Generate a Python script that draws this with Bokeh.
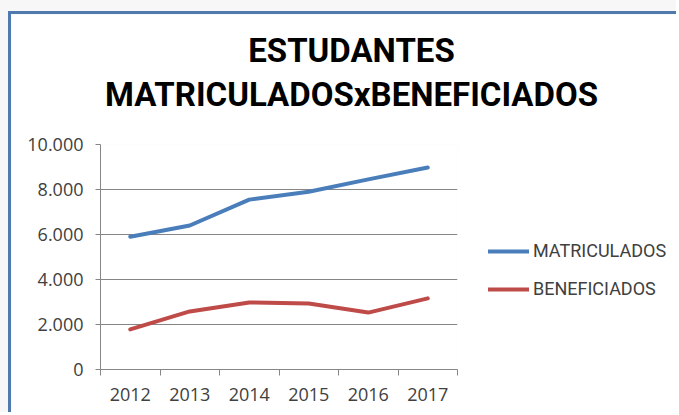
from bokeh.plotting import figure
from bokeh.models import FixedTicker, Legend, LegendItem, Label
from bokeh.layouts import column
from bokeh.embed import file_html
from bokeh.resources import INLINE

# ---- data ----
years = [2012, 2013, 2014, 2015, 2016, 2017]
matriculados = [5900, 6400, 7550, 7900, 8450, 8980]
beneficiados = [1780, 2580, 2980, 2930, 2530, 3160]
series_names = ["MATRICULADOS", "BENEFICIADOS"]
y_ticks = [0, 2000, 4000, 6000, 8000, 10000]
y_tick_labels = ["0", "2.000", "4.000", "6.000", "8.000", "10.000"]
x_tick_labels = ["2012", "2013", "2014", "2015", "2016", "2017"]
title_lines = ["ESTUDANTES", "MATRICULADOSxBENEFICIADOS"]

# ---- styles ----
BLUE = "#4a7ebb"
RED = "#be4b48"
GRID = "#868686"
TXT = "#404040"
FONT = "Open Sans"
LEG_FONT = "Roboto"
TITLE_FONT = "Roboto"

W, H = 668, 401

# ---------------- main chart (axes, grid, lines) ----------------
p = figure(width=W, height=H, output_backend="svg", toolbar_location=None,
           x_range=(years[0] - 0.5, years[-1] + 0.5), y_range=(y_ticks[0], y_ticks[-1]),
           min_border_left=89, min_border_right=222, min_border_top=130,
           min_border_bottom=46)
p.outline_line_color = None
p.background_fill_color = "white"
p.border_fill_color = "white"

bounds = [y - 0.5 for y in years] + [years[-1] + 0.5]
p.xaxis.ticker = FixedTicker(ticks=years, minor_ticks=bounds)
p.xaxis.major_label_overrides = dict(zip(years, x_tick_labels))
p.xaxis.major_tick_in = 0
p.xaxis.major_tick_out = 0
p.xaxis.minor_tick_in = 0
p.xaxis.minor_tick_out = 6
p.xaxis.minor_tick_line_color = GRID
p.xaxis.axis_line_color = GRID
p.xaxis.major_label_standoff = 12
p.xgrid.grid_line_color = None

p.yaxis.ticker = FixedTicker(ticks=y_ticks, minor_ticks=[])
p.yaxis.major_label_overrides = dict(zip(y_ticks, y_tick_labels))
p.yaxis.major_tick_in = 0
p.yaxis.major_tick_out = 5
p.yaxis.minor_tick_out = 0
p.yaxis.major_tick_line_color = GRID
p.yaxis.axis_line_color = GRID
p.yaxis.major_label_standoff = 12
p.ygrid.grid_line_color = GRID

for ax in (p.xaxis, p.yaxis):
    ax.major_label_text_font = FONT
    ax.major_label_text_font_size = "18px"
    ax.major_label_text_color = TXT

line_kw = dict(line_width=4, line_join="round", line_cap="round")
p.line(years, matriculados, line_color=BLUE, **line_kw)
p.line(years, beneficiados, line_color=RED, **line_kw)

p.styles = {"border-left": "3px solid #5079ad", "border-top": "3px solid #5079ad"}
root = column(p, styles={"background-color": "#f7f7f7", "padding-left": "8px",
                         "padding-top": "11px"})

# ------------- overlay (title + legend): separate root, laid over the chart -------------
ov = figure(width=W, height=H, output_backend="svg", toolbar_location=None,
            x_range=(0, 1), y_range=(0, 1),
            x_axis_location=None, y_axis_location=None,
            min_border=0, min_border_left=0, min_border_right=0,
            min_border_top=0, min_border_bottom=0)
ov.outline_line_color = None
ov.background_fill_alpha = 0
ov.border_fill_alpha = 0
ov.grid.visible = False

# legend proxies (same series, lying outside this overlay's view)
l1 = ov.line(years, matriculados, line_color=BLUE, **line_kw)
l2 = ov.line(years, beneficiados, line_color=RED, **line_kw)

legend = Legend(items=[LegendItem(label=series_names[0], renderers=[l1]),
                       LegendItem(label=series_names[1], renderers=[l2])],
                location=(477, 116), orientation="vertical",
                glyph_width=41, glyph_height=20, label_height=20,
                label_standoff=4, spacing=17, padding=0, margin=0,
                border_line_color=None, background_fill_alpha=0,
                label_text_font=LEG_FONT, label_text_font_size="18px",
                label_text_color=TXT)
ov.add_layout(legend)

for txt, yb in zip(title_lines, [365, 321]):
    ov.add_layout(Label(x=340, y=yb, x_units="screen", y_units="screen", text=txt,
                        text_align="center", text_baseline="alphabetic",
                        text_font=TITLE_FONT, text_font_size="33px",
                        text_font_style="bold", text_color="black"))

ov.styles = {"position": "absolute", "left": "11px", "top": "14px"}

open("out.html", "w").write(file_html([root, ov], INLINE))
